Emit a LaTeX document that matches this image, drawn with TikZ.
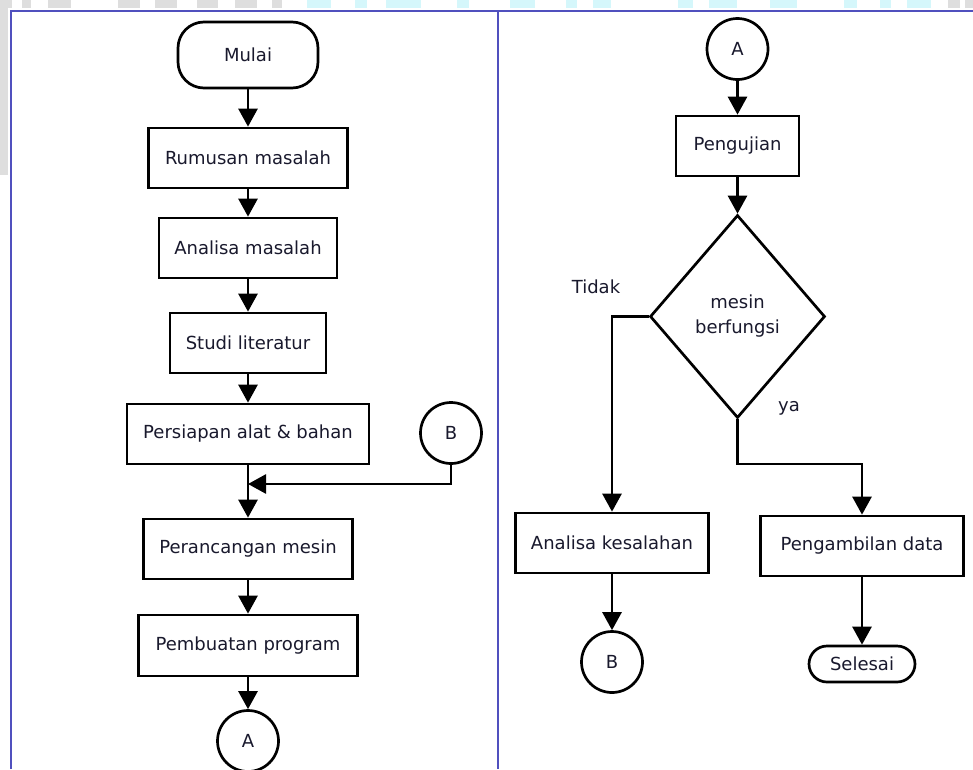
\documentclass[tikz,border=0pt]{standalone}
\usepackage{fontspec}
\setmainfont{DejaVu Sans}
\usetikzlibrary{arrows.meta,shapes.geometric}
\definecolor{frameblue}{RGB}{80,80,190}
\definecolor{wmgrey}{RGB}{222,222,222}
\definecolor{wmcyan}{RGB}{213,247,251}
\definecolor{txt}{RGB}{25,25,45}
\tikzset{
  base/.style={draw=black, line width=2.7pt, text=txt, font=\fontsize{18}{25}\selectfont, align=center, inner sep=0pt},
  procbox/.style={base, rectangle},
  termbox/.style={base, rectangle, rounded corners=#1},
  conn/.style={base, circle, minimum size=61pt},
  decbox/.style={base, diamond, minimum width=175pt, minimum height=203pt, aspect=0.86},
  flow/.style={line width=2.7pt, -{Triangle[length=18pt,width=19pt]}},
  lbl/.style={text=txt, font=\fontsize{18}{25}\selectfont, inner sep=0pt}
}
\begin{document}
\begin{tikzpicture}[x=1pt,y=-1pt]
\useasboundingbox (0,0) rectangle (973,769);
\fill[white] (0,0) rectangle (973,769);
% watermark strip
\foreach \a/\b in {0/12,22/31,48/71,118/140,155/177,197/218,235/257,272/282,948/960,965/973}
  \fill[wmgrey] (\a,0) rectangle (\b,8);
\foreach \a/\b in {307/331,355/367,386/421,457/469,510/535,566/577,593/611,678/693,709/737,770/797,844/857,880/891,907/931}
  \fill[wmcyan] (\a,0) rectangle (\b,8);
\fill[wmgrey] (0,0) rectangle (8,175);
% frame
\draw[frameblue, line width=2pt] (11,769) -- (11,11) -- (973,11);
\draw[frameblue, line width=2pt] (498,11) -- (498,769);

% left column
\node[termbox=26pt, minimum width=140pt, minimum height=66pt] (mulai) at (248,55) {Mulai};
\node[procbox, minimum width=199pt, minimum height=60pt] (rumusan) at (248,158) {Rumusan masalah};
\node[procbox, minimum width=178pt, minimum height=60pt] (analisa) at (248,248) {Analisa masalah};
\node[procbox, minimum width=156pt, minimum height=60pt] (studi) at (248,343) {Studi literatur};
\node[procbox, minimum width=242pt, minimum height=60pt] (persiapan) at (248,434) {Persiapan alat \& bahan};
\node[conn] (bL) at (451,433) {B};
\node[procbox, minimum width=209pt, minimum height=60pt] (perancangan) at (248,549) {Perancangan mesin};
\node[procbox, minimum width=219pt, minimum height=61pt] (pembuatan) at (248,645.5) {Pembuatan program};
\node[conn] (aL) at (248,741) {A};
\coordinate (merge) at (248,484);

\draw[flow] (mulai) -- (rumusan);
\draw[flow] (rumusan) -- (analisa);
\draw[flow] (analisa) -- (studi);
\draw[flow] (studi) -- (persiapan);
\draw[flow] (persiapan) -- (perancangan);
\draw[flow] (bL.south) |- (merge);
\draw[flow] (perancangan) -- (pembuatan);
\draw[flow] (pembuatan) -- (aL);

% right column
\node[conn] (aR) at (737.5,49) {A};
\node[procbox, minimum width=123pt, minimum height=60pt] (pengujian) at (737.5,146) {Pengujian};
\node[decbox] (dec) at (737.5,316.5) {mesin\\berfungsi};
\node[procbox, minimum width=193pt, minimum height=60pt] (anK) at (612,543) {Analisa kesalahan};
\node[procbox, minimum width=203pt, minimum height=60pt] (peng) at (862,546) {Pengambilan data};
\node[conn] (bR) at (612,662) {B};
\node[termbox=18pt, minimum width=106pt, minimum height=36pt] (selesai) at (862,664) {Selesai};
\coordinate (yaTurn) at (737.5,464);
\node[lbl] (tidak) at (596,287) {Tidak};
\node[lbl] (ya) at (789,408) {ya};

\draw[flow] (aR) -- (pengujian);
\draw[flow] (pengujian) -- (dec);
\draw[flow] (dec.west) -| (anK.north);
\draw[flow] (dec.south) -- (yaTurn) -| (peng.north);
\draw[flow] (anK) -- (bR);
\draw[flow] (peng) -- (selesai);
\end{tikzpicture}
\end{document}
